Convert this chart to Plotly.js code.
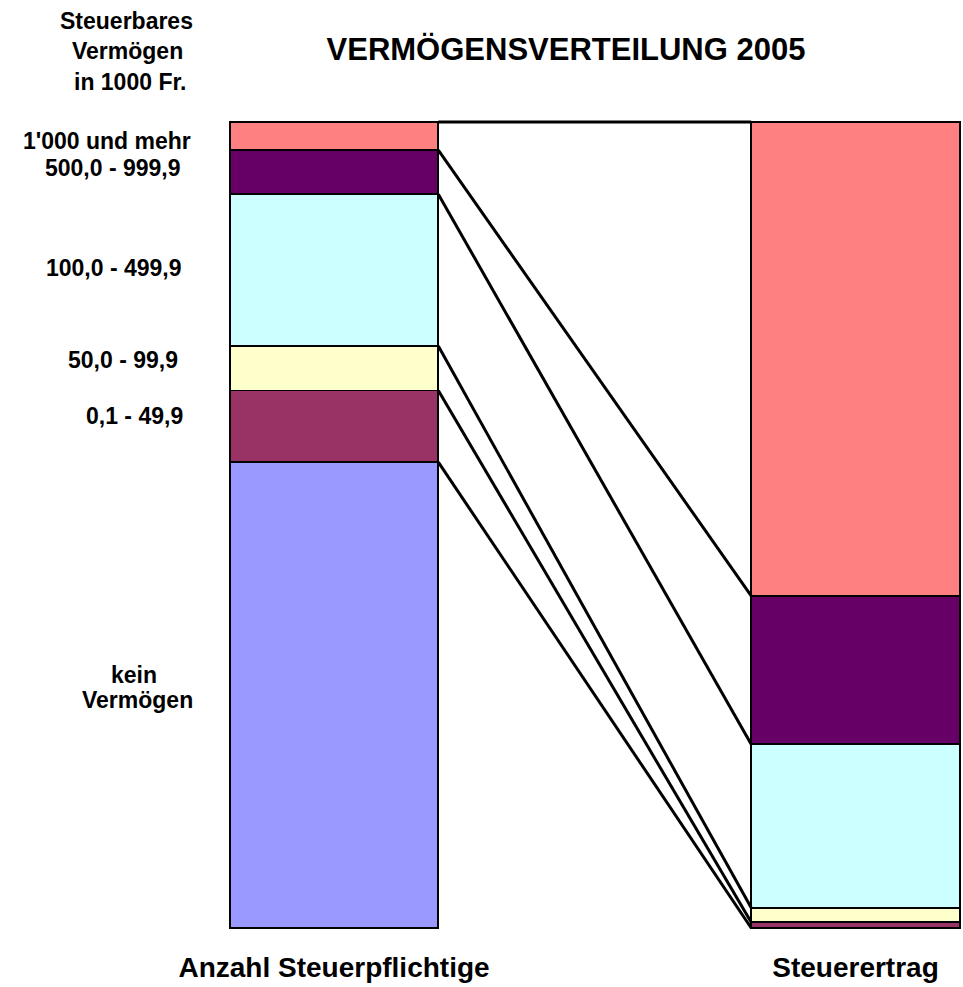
<!DOCTYPE html>
<html>
<head>
<meta charset="utf-8">
<script src="https://cdn.plot.ly/plotly-3.0.1.min.js"></script>
<style>html,body{margin:0;padding:0;background:#fff;}#chart{width:963px;height:987px;}</style>
</head>
<body>
<div id="chart"></div>
<script>
// Data (percent shares), ordered bottom to top of the stack
var classes = ["kein Vermögen", "0,1 - 49,9", "50,0 - 99,9", "100,0 - 499,9", "500,0 - 999,9", "1'000 und mehr"];
var anzahlSteuerpflichtige = [57.8, 8.9, 5.5, 18.85, 5.45, 3.5];
var steuerertrag = [0, 0.7, 1.8, 20.3, 18.4, 58.8];
var barCategories = ["Anzahl Steuerpflichtige", "Steuerertrag"];
var colors = ["#9999FF", "#993366", "#FFFFCC", "#CCFFFF", "#660066", "#FF8080"];

var FONT = "Liberation Sans, Arial, sans-serif";
var barX = [0, 1];
var barWidth = 0.4;

var traces = [];
for (var i = 0; i < classes.length; i++) {
  traces.push({
    type: "bar",
    x: barX,
    y: [anzahlSteuerpflichtige[i], steuerertrag[i]],
    width: barWidth,
    name: classes[i],
    marker: {color: colors[i], line: {color: "#000", width: 1.8}},
    hoverinfo: "skip",
    showlegend: false
  });
}

// Series lines connecting the top of each segment
function cumTop(arr, idx) {
  var s = 0;
  for (var k = 0; k <= idx; k++) s += arr[k];
  return s;
}
for (var j = 0; j < classes.length; j++) {
  traces.push({
    type: "scatter",
    mode: "lines",
    x: [barX[0] + barWidth / 2, barX[1] - barWidth / 2],
    y: [cumTop(anzahlSteuerpflichtige, j), cumTop(steuerertrag, j)],
    line: {color: "#000", width: 3},
    hoverinfo: "skip",
    showlegend: false,
    cliponaxis: false
  });
}

var W = 963, H = 987;
var M = {l: 228, r: 1, t: 120, b: 57};
function px(x) { return (x - M.l) / (W - M.l - M.r); }
function py(y) { return (H - M.b - y) / (H - M.t - M.b); }

function ann(text, x, y, size) {
  return {text: "<b>" + text + "</b>", xref: "paper", yref: "paper", x: px(x), y: py(y),
          xanchor: "center", yanchor: "middle", showarrow: false,
          font: {family: FONT, size: size || 23, color: "#000"}};
}

var annotations = [
  ann("Steuerbares", 126, 21),
  ann("Vermögen", 127, 51),
  ann("in 1000 Fr.", 130, 82),
  ann("1'000 und mehr", 107, 140.5),
  ann("500,0 - 999,9", 113, 168),
  ann("100,0 - 499,9", 114, 268),
  ann("50,0 - 99,9", 123, 360),
  ann("0,1 - 49,9", 134, 416),
  ann("kein", 134, 674.5),
  ann("Vermögen", 137, 700)
];

var layout = {
  width: W, height: H,
  margin: M,
  paper_bgcolor: "#fff",
  plot_bgcolor: "#fff",
  barmode: "stack",
  title: {text: "<b>VERMÖGENSVERTEILUNG 2005</b>", xref: "container", yref: "container",
          x: 566 / W, xanchor: "center", y: 1 - 49 / H, yanchor: "middle",
          font: {family: FONT, size: 31, color: "#000"}},
  xaxis: {range: [-0.2033, 1.2042], tickvals: barX, ticktext: barCategories.map(function(s){return "<b>"+s+"</b>";}),
          showgrid: false, zeroline: false, showline: false, ticks: "", ticklabelstandoff: 18,
          tickfont: {family: FONT, size: 28, color: "#000"}},
  yaxis: {range: [-0.25, 100.25], visible: false, showgrid: false, zeroline: false},
  annotations: annotations,
  showlegend: false
};

Plotly.newPlot("chart", traces, layout, {displayModeBar: false, staticPlot: true});
</script>
</body>
</html>
